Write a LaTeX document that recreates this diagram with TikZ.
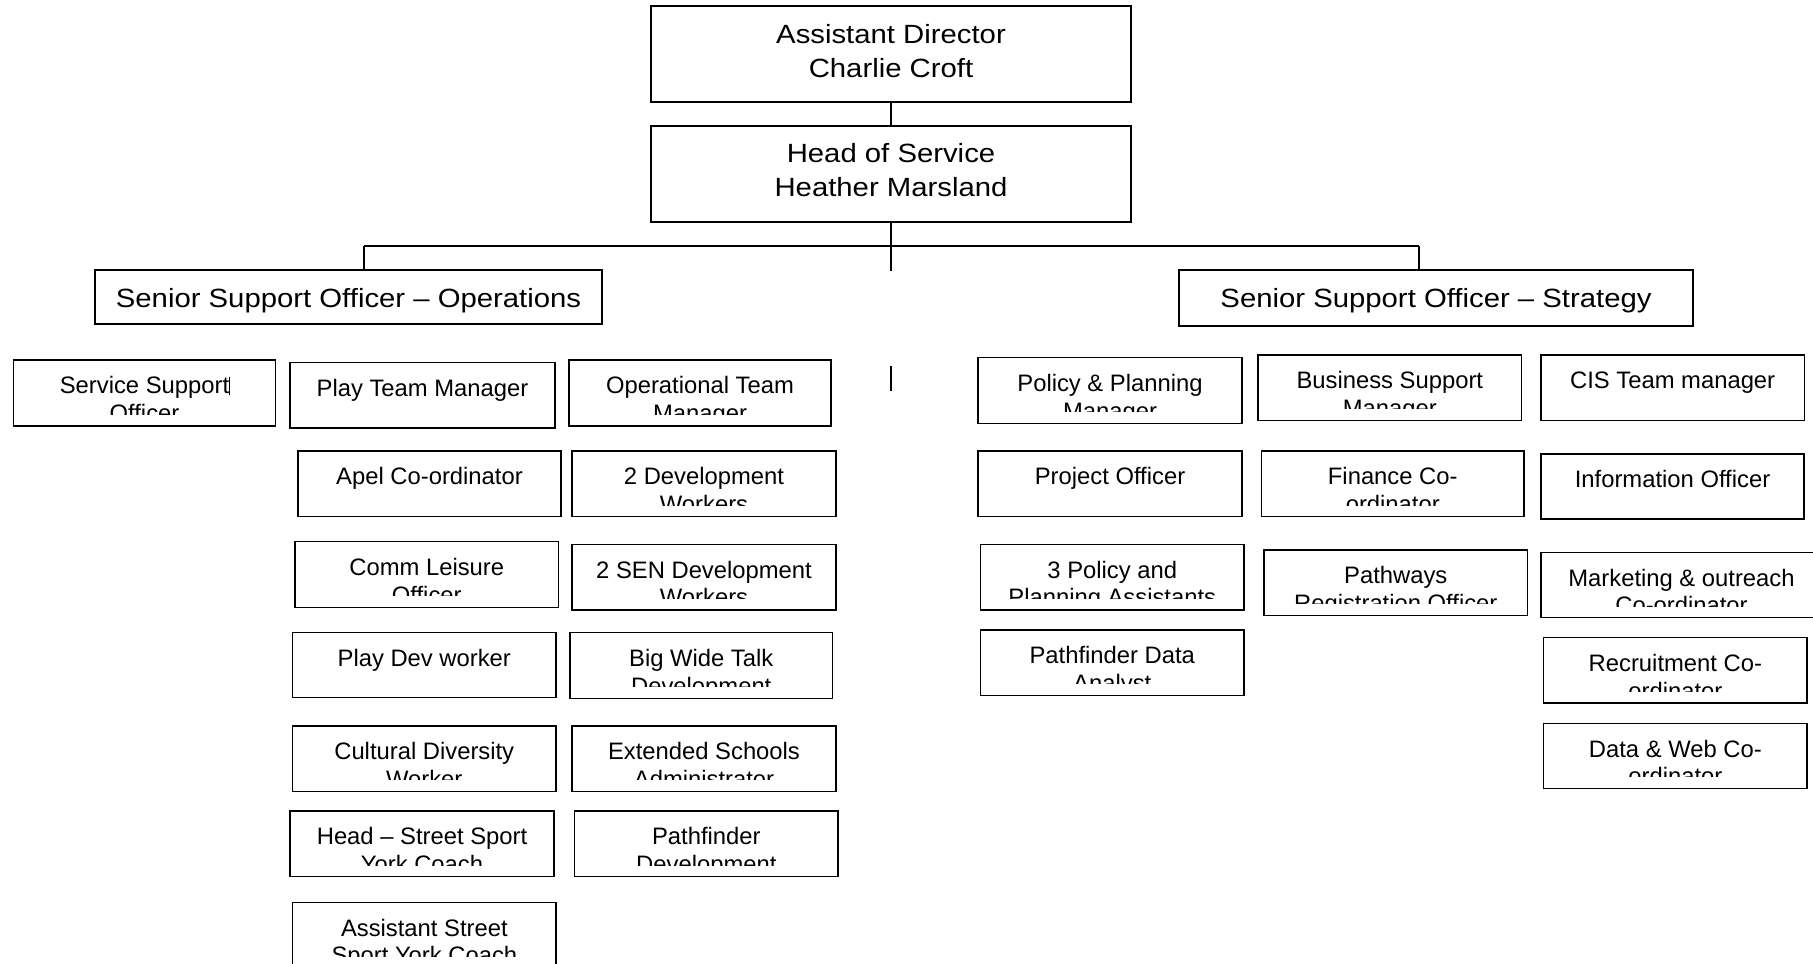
\documentclass[tikz,border=0pt]{standalone}
\usepackage{graphicx}
\usepackage{fontspec}
\setmainfont{Liberation Sans}
\tikzset{
  orgbox/.style={draw=black, line width=0.75pt, rectangle, inner sep=0pt, outer sep=0pt, fill=none},
  bigtext/.style={font=\fontsize{14.65}{18.9}\selectfont, inner sep=0pt, anchor=base, text=black},
  smalltext/.style={font=\fontsize{11.9}{13.75}\selectfont, inner sep=0pt, anchor=base, text=black},
  conn/.style={draw=black, line width=0.65pt},
  cursorline/.style={draw=black, line width=0.6pt}
}
\newcommand{\vtext}[1]{\scalebox{1}[0.9]{\begin{tabular}[t]{@{}c@{}}#1\end{tabular}}}
\newcommand{\stext}[1]{\begin{tabular}[t]{@{}c@{}}#1\end{tabular}}
\newcommand{\plainbox}[5]{%
  \node[orgbox, minimum width={(#4-#2)*0.5pt}, minimum height={(#5-#3)*0.5pt}] (#1) at ({(#2+#4)/2},{(#3+#5)/2}) {};}
\newcommand{\smallbox}[6]{%
  \plainbox{#1}{#2}{#3}{#4}{#5}
  \begin{scope}
    \clip (#2,#3) rectangle (#4,{#5-11.5});
    \node[smalltext] (#1t) at ({(#2+#4)/2},{#3+33.8}) {\stext{#6}};
  \end{scope}}
\begin{document}
\begin{tikzpicture}[x=0.5pt,y=-0.5pt]
\useasboundingbox (0,0) rectangle (1813,963);
\clip (0,0) rectangle (1813,963);
\fill[white] (0,0) rectangle (1813,963);

% top levels
\plainbox{ad}{651}{6}{1131}{102}
\node[bigtext] (adt) at (891,43.3) {\vtext{Assistant Director\\Charlie Croft}};
\plainbox{hos}{651}{126}{1131}{222}
\node[bigtext] (host) at (891,162.5) {\vtext{Head of Service\\Heather Marsland}};
\plainbox{ops}{95}{270}{602}{324}
\node[bigtext] (opst) at (348.5,307.3) {\vtext{Senior Support Officer \textendash\ Operations}};
\plainbox{strat}{1179}{270}{1693}{326}
\node[bigtext] (stratt) at (1436,307.3) {\vtext{Senior Support Officer \textendash\ Strategy}};

% connectors
\coordinate (stub) at (891,270.7);
\coordinate (dropL) at (364,246);
\coordinate (dropR) at (1419,246);
\draw[conn] (ad.south) -- (hos.north);
\draw[conn] (hos.south) -- (stub);
\draw[conn] (dropL) -- (dropR);
\draw[conn] (dropL) -- (dropL |- ops.north);
\draw[conn] (dropR) -- (dropR |- strat.north);
\coordinate (loneA) at (891,365.7);
\coordinate (loneB) at (891,390.7);
\draw[conn] (loneA) -- (loneB);

% operations column
\smallbox{sso}{13.3}{360}{275.7}{426}{Service Support\\Officer}
\coordinate (curA) at (229.3,376.7);
\coordinate (curB) at (229.3,395);
\draw[cursorline] (curA) -- (curB);
\smallbox{ptm}{290}{362.3}{555}{428}{Play Team Manager}
\smallbox{otm}{569}{360}{831}{426}{Operational Team\\Manager}
\smallbox{apel}{298}{451}{561}{516.7}{Apel Co-ordinator}
\smallbox{devw}{572}{451}{836}{516.7}{2 Development\\Workers}
\smallbox{comm}{295}{541.7}{558.5}{607.3}{Comm Leisure\\Officer}
\smallbox{sen}{572}{544.3}{836}{610}{2 SEN Development\\Workers}
\smallbox{pdw}{292.5}{632.7}{556}{697.7}{Play Dev worker}
\smallbox{bwt}{570}{632.7}{832.5}{698.3}{Big Wide Talk\\Development}
\smallbox{cdw}{292.5}{726}{556}{791.3}{Cultural Diversity\\Worker}
\smallbox{esa}{572}{726}{836}{791.3}{Extended Schools\\Administrator}
\smallbox{hss}{290}{811}{554}{876.7}{Head \textendash\ Street Sport\\York Coach}
\smallbox{pfd}{574.7}{811}{838}{876.7}{Pathfinder\\Development}
\smallbox{ass}{292.7}{902.3}{556}{968}{Assistant Street\\Sport York Coach}

% strategy column
\smallbox{ppm}{978}{357.7}{1242}{423.3}{Policy \& Planning\\Manager}
\smallbox{bsm}{1258}{355}{1521.6}{420.3}{Business Support\\Manager}
\smallbox{cis}{1541}{355}{1804.3}{420.3}{CIS Team manager}
\smallbox{po}{978}{451}{1242}{516.7}{Project Officer}
\smallbox{fin}{1261.5}{451}{1524}{516.7}{Finance Co-\\ordinator}
\smallbox{info}{1541}{454}{1804}{519}{Information Officer}
\smallbox{ppa}{980.5}{544.3}{1244}{610}{3 Policy and\\Planning Assistants}
\smallbox{prs}{1264}{550}{1527.5}{615.3}{Pathways\\Registration Officer}
\smallbox{mkt}{1541}{552.3}{1822}{617.7}{Marketing \& outreach\\Co-ordinator}
\smallbox{pda}{980.5}{630}{1244}{695.3}{Pathfinder Data\\Analyst}
\smallbox{rec}{1543.7}{637.7}{1807}{703}{Recruitment Co-\\ordinator}
\smallbox{dw}{1543.7}{723.3}{1807}{788.3}{Data \& Web Co-\\ordinator}
\end{tikzpicture}
\end{document}
